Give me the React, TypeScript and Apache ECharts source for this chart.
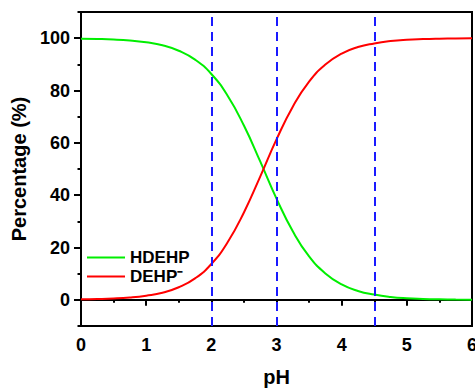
import React, { useEffect, useRef } from "react";
import * as echarts from "echarts";

// pH grid and speciation fractions (%) of di(2-ethylhexyl)phosphoric acid
const phValues = [0, 0.25, 0.5, 0.75, 1, 1.25, 1.5, 1.75, 2, 2.25, 2.5, 2.75, 3, 3.25, 3.5, 3.75, 4, 4.25, 4.5, 4.75, 5, 5.25, 5.5, 5.75, 6];
const hdehp = [99.8, 99.7, 99.5, 99.1, 98.4, 97.3, 95.2, 91.8, 86.3, 78.0, 66.6, 52.9, 38.7, 26.2, 16.6, 10.1, 5.9, 3.4, 2.0, 1.1, 0.6, 0.35, 0.2, 0.11, 0.06];
const dehp = [0.2, 0.3, 0.5, 0.9, 1.6, 2.7, 4.8, 8.2, 13.7, 22.0, 33.4, 47.1, 61.3, 73.8, 83.4, 89.9, 94.1, 96.6, 98.0, 98.9, 99.4, 99.65, 99.8, 99.89, 99.94];
const markerPH = [2, 3, 4.5];
const yMajorTicks = [0, 20, 40, 60, 80, 100];

const FONT = 'Arial, "Liberation Sans", Helvetica, sans-serif';

export default function App() {
  const ref = useRef<HTMLDivElement>(null);

  useEffect(() => {
    if (!ref.current) return;
    const chart = echarts.init(ref.current, null, { renderer: "svg" });
    const tickText = { color: "#000", fontFamily: FONT, fontWeight: "bold" as const, fontSize: 18 };
    const nameText = { color: "#000", fontFamily: FONT, fontWeight: "bold" as const, fontSize: 20 };
    chart.setOption({
      animation: false,
      backgroundColor: "#fff",
      grid: {
        left: 81,
        right: 3,
        top: 12,
        bottom: 63,
        outerBoundsMode: "none",
        containLabel: false,
        show: true,
        borderColor: "#000",
        borderWidth: 2,
        backgroundColor: "transparent",
      },
      legend: {
        orient: "vertical",
        left: 82,
        top: 244,
        icon: "rect",
        itemWidth: 38,
        itemHeight: 2,
        itemGap: 2,
        textStyle: { color: "#000", fontFamily: FONT, fontWeight: "bold", fontSize: 17, padding: [0, 0, 0, 0] },
        data: ["HDEHP", "DEHP\u207B"],
      },
      xAxis: {
        type: "value",
        min: 0,
        max: 6,
        interval: 1,
        name: "pH",
        nameLocation: "middle",
        nameGap: 41,
        nameTextStyle: nameText,
        axisLine: { lineStyle: { color: "#000", width: 2 } },
        axisTick: { inside: false, length: 6, lineStyle: { color: "#000", width: 2 } },
        minorTick: { show: true, splitNumber: 2, length: 3, lineStyle: { color: "#000", width: 2 } },
        axisLabel: { ...tickText, margin: 10 },
        splitLine: { show: false },
      },
      yAxis: [
        {
          type: "value",
          min: -10,
          max: 110,
          name: "Percentage (%)",
          nameLocation: "middle",
          nameGap: 48,
          nameTextStyle: nameText,
          axisLine: { lineStyle: { color: "#000", width: 2 } },
          axisTick: { inside: false, length: 7, customValues: yMajorTicks, lineStyle: { color: "#000", width: 2 } },
          axisLabel: { ...tickText, margin: 11, customValues: yMajorTicks },
          splitLine: { show: false },
        },
        {
          // minor ticks every 10 %
          type: "value",
          position: "left",
          min: -10,
          max: 110,
          interval: 10,
          axisLine: { show: false },
          axisTick: { inside: false, length: 3.5, lineStyle: { color: "#000", width: 2 } },
          axisLabel: { show: false },
          splitLine: { show: false },
        },
      ],
      series: [
        {
          name: "HDEHP",
          type: "line",
          smooth: true,
          symbol: "none",
          data: phValues.map((x, i) => [x, hdehp[i]]),
          lineStyle: { color: "#00ee00", width: 2 },
          itemStyle: { color: "#00ee00" },
          markLine: {
            silent: true,
            symbol: ["none", "none"],
            label: { show: false },
            lineStyle: { color: "#1a1aff", width: 2, type: [9, 6] },
            data: markerPH.map((v) => ({ xAxis: v })),
          },
        },
        {
          name: "DEHP\u207B",
          type: "line",
          smooth: true,
          symbol: "none",
          data: phValues.map((x, i) => [x, dehp[i]]),
          lineStyle: { color: "#ff0000", width: 2 },
          itemStyle: { color: "#ff0000" },
        },
      ],
    });
    return () => chart.dispose();
  }, []);

  return (
    <div
      ref={ref}
      style={{ position: "fixed", left: 0, top: 0, width: 475, height: 389, background: "#fff" }}
    />
  );
}
